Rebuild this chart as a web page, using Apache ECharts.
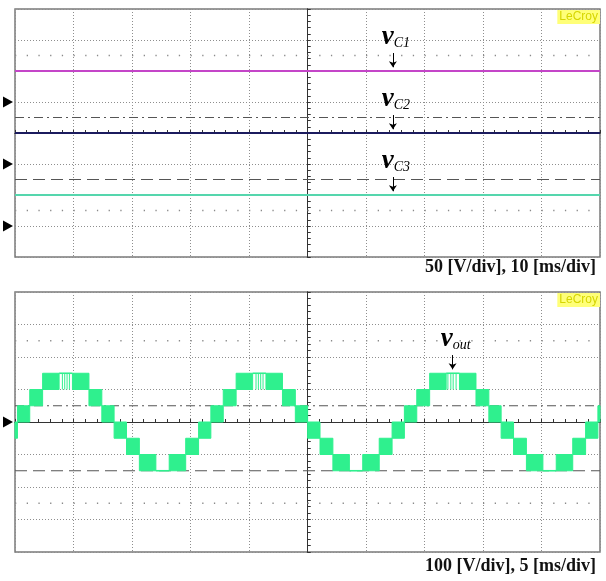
<!DOCTYPE html>
<html><head><meta charset="utf-8">
<script src="https://cdn.jsdelivr.net/npm/echarts@6/dist/echarts.min.js"></script>
<style>html,body{margin:0;padding:0;background:#fff}#c{width:606px;height:581px}</style>
</head><body><div id="c"></div>
<script>
// ---------- Top panel: capacitor voltages (50 V/div, 10 ms/div), time relative to trigger ----------
const capTimeMs = [-50, -25, 0, 25, 50];
const vC1 = [50, 50, 50, 50, 50];
const vC2 = [50, 50, 50, 50, 50];
const vC3 = [50, 50, 50, 50, 50];
// ---------- Bottom panel: output voltage (100 V/div, 5 ms/div) ----------
// band edges (ms) and the voltage band the switched output occupies between two edges
const voutEdgesMs = [-25, -24.79, -23.74, -22.64, -21.23, -20.09, -18.68, -17.58, -16.53,
  -15.47, -14.37, -12.96, -11.82, -10.41, -9.31, -8.26,
  -7.20, -6.10, -4.69, -3.55, -2.14, -1.04, 0.01,
  1.07, 2.17, 3.58, 4.72, 6.13, 7.23, 8.28,
  9.34, 10.44, 11.85, 12.99, 14.40, 15.50, 16.55,
  17.61, 18.71, 20.12, 21.26, 22.67, 23.77, 24.82, 25];
const voutBandLow = [-50, 0, 50, 100, 150, 100, 50, 0,
  -50, -100, -150, -150, -150, -100, -50,
  0, 50, 100, 150, 100, 50, 0,
  -50, -100, -150, -150, -150, -100, -50,
  0, 50, 100, 150, 100, 50, 0,
  -50, -100, -150, -150, -150, -100, -50, 0];
const voutBandHigh = [0, 50, 100, 150, 150, 150, 100, 50,
  0, -50, -100, -150, -100, -50, 0,
  50, 100, 150, 150, 150, 100, 50,
  0, -50, -100, -150, -100, -50, 0,
  50, 100, 150, 150, 150, 100, 50,
  0, -50, -100, -150, -100, -50, 0, 50];
// short dips near the positive peaks (ms), from 150 V down to 100 V
const voutSpikeMs = [-20.95, -20.75, -20.55, -20.35, -4.4, -4.2, -4.0, -3.8, 12.0, 12.25, 12.45, 12.7];
const voutSpikeHigh = 150, voutSpikeLow = 100;
// cursor levels
const topDashDotDiv = 0.5, topDashDiv = -1.5, topDotRowsDiv = [2.5, -2.5];
const botDashDotV = 50, botDashV = -150, botDotRowsV = [250, -250];

const GRID = '#8e8e8e', AX = '#333';
function mainAxis(extra) {
  return Object.assign({
    type: 'value', axisLabel: {show: false},
    axisLine: {show: true, onZero: true, lineStyle: {color: AX, width: 1}},
    axisTick: {show: true, inside: true, length: 3, lineStyle: {color: AX, width: 1}},
    minorTick: {show: true, splitNumber: 5, length: 3, lineStyle: {color: AX, width: 1}},
    splitLine: {show: true, lineStyle: {color: GRID, type: [1, 2], width: 1}},
    minorSplitLine: {show: false}
  }, extra);
}
function dupAxis(extra) {
  return Object.assign({
    type: 'value', axisLabel: {show: false},
    axisLine: {show: true, onZero: true, lineStyle: {color: AX, width: 1}},
    axisTick: {show: true, inside: false, length: 3, lineStyle: {color: AX, width: 1}},
    minorTick: {show: true, splitNumber: 5, length: 3, lineStyle: {color: AX, width: 1}},
    splitLine: {show: false}
  }, extra);
}
function hline(xi, yi, xmin, xmax, y, style) {
  return {type: 'line', xAxisIndex: xi, yAxisIndex: yi, silent: true, symbol: 'none', z: 1,
    data: [[xmin, y], [xmax, y]], lineStyle: style, animation: false};
}
const serif = 'Liberation Serif, Times New Roman, serif';
const richLab = {
  v: {fontFamily: serif, fontSize: 27, fontWeight: 'bold', fontStyle: 'italic', color: '#000', verticalAlign: 'bottom', lineHeight: 24},
  s: {fontFamily: serif, fontSize: 14, fontStyle: 'italic', color: '#000', verticalAlign: 'bottom', lineHeight: 16}
};
function annot(t, top, tip, sub, ground) {
  const mp = [{coord: [t, top], symbol: 'rect', symbolSize: 1, itemStyle: {color: 'rgba(0,0,0,0)'},
    label: {show: true, position: 'top', distance: 2, offset: [3, 0], formatter: '{v|v}{s|' + sub + '}', rich: richLab}}];
  if (ground) mp.push(ground);
  return {
    markLine: {silent: true, symbol: ['none', 'arrow'], symbolSize: 6, animation: false,
      lineStyle: {color: '#000', width: 1, type: 'solid'}, label: {show: false},
      data: [[{coord: [t, top]}, {coord: [t, tip]}]]},
    markPoint: {silent: true, animation: false, data: mp}
  };
}
function groundMark(xmin) {
  return {coord: [xmin, 0], symbol: 'triangle', symbolSize: [11, 10], symbolRotate: -90, symbolOffset: [-7, 0],
    itemStyle: {color: '#000'}, label: {show: false}};
}
function capSeries(name, vals, yi, color, sub) {
  const a = annot(14.6, 79, 56, sub, groundMark(-50));
  return {name, type: 'line', xAxisIndex: 0, yAxisIndex: yi, symbol: 'none', clip: false, z: 3,
    data: capTimeMs.map((t, i) => [t, vals[i]]), lineStyle: {color, width: 2}, itemStyle: {color},
    markLine: a.markLine, markPoint: a.markPoint, animation: false};
}
const green = '#2ff08e';
const bands = voutBandLow.map((lo, i) => [voutEdgesMs[i], voutEdgesMs[i + 1], lo, voutBandHigh[i]]);
const voutAnn = annot(12.4, 206, 162, 'out', groundMark(-25));

const option = {
  animation: false,
  backgroundColor: '#fff',
  title: [
    {text: '50 [V/div], 10 [ms/div]', right: 10, top: 258, padding: 0,
      textStyle: {fontFamily: serif, fontWeight: 'bold', fontSize: 18, color: '#111'}},
    {text: '100 [V/div], 5 [ms/div]', right: 10, top: 557, padding: 0,
      textStyle: {fontFamily: serif, fontWeight: 'bold', fontSize: 18, color: '#111'}},
    {text: 'LeCroy', right: 6, top: 10, padding: [1, 2], backgroundColor: '#ffff78',
      textStyle: {fontFamily: 'Liberation Sans, Arial', fontWeight: 'normal', fontSize: 12, color: '#d6d600'}},
    {text: 'LeCroy', right: 6, top: 293, padding: [1, 2], backgroundColor: '#ffff78',
      textStyle: {fontFamily: 'Liberation Sans, Arial', fontWeight: 'normal', fontSize: 12, color: '#d6d600'}}
  ],
  grid: [
    {left: 15, top: 9, width: 585, height: 248, show: true, borderColor: '#7a7a7a', borderWidth: 1.5, containLabel: false},
    {left: 15, top: 292, width: 585, height: 260, show: true, borderColor: '#7a7a7a', borderWidth: 1.5, containLabel: false}
  ],
  xAxis: [
    mainAxis({gridIndex: 0, min: -50, max: 50, interval: 10, axisLine: {show: true, onZero: true, onZeroAxisIndex: 0, lineStyle: {color: AX, width: 1}}}),
    dupAxis({gridIndex: 0, min: -50, max: 50, interval: 10, axisLine: {show: true, onZero: true, onZeroAxisIndex: 0, lineStyle: {color: AX, width: 1}}}),
    mainAxis({gridIndex: 1, min: -25, max: 25, interval: 5, axisLine: {show: true, onZero: true, onZeroAxisIndex: 5, lineStyle: {color: AX, width: 1}}}),
    dupAxis({gridIndex: 1, min: -25, max: 25, interval: 5, axisLine: {show: true, onZero: true, onZeroAxisIndex: 5, lineStyle: {color: AX, width: 1}}})
  ],
  yAxis: [
    mainAxis({gridIndex: 0, min: -4, max: 4, interval: 1, axisLine: {show: true, onZero: true, onZeroAxisIndex: 0, lineStyle: {color: AX, width: 1}}}),
    dupAxis({gridIndex: 0, min: -4, max: 4, interval: 1, axisLine: {show: true, onZero: true, onZeroAxisIndex: 0, lineStyle: {color: AX, width: 1}}}),
    {type: 'value', gridIndex: 0, show: false, min: -250, max: 150},
    {type: 'value', gridIndex: 0, show: false, min: -150, max: 250},
    {type: 'value', gridIndex: 0, show: false, min: -50, max: 350},
    mainAxis({gridIndex: 1, min: -400, max: 400, interval: 100, axisLine: {show: true, onZero: true, onZeroAxisIndex: 2, lineStyle: {color: AX, width: 1}}}),
    dupAxis({gridIndex: 1, min: -400, max: 400, interval: 100, axisLine: {show: true, onZero: true, onZeroAxisIndex: 2, lineStyle: {color: AX, width: 1}}})
  ],
  series: [
    hline(0, 0, -50, 50, topDashDotDiv, {color: '#555', width: 1.2, type: [9, 4, 2, 4]}),
    hline(0, 0, -50, 50, topDashDiv, {color: '#555', width: 1.2, type: [12, 6]}),
    hline(0, 0, -50, 50, topDotRowsDiv[0], {color: '#8a8a8a', width: 1.3, type: [1.3, 10.4]}),
    hline(0, 0, -50, 50, topDotRowsDiv[1], {color: '#8a8a8a', width: 1.3, type: [1.3, 10.4]}),
    hline(2, 5, -25, 25, botDashDotV, {color: '#555', width: 1.2, type: [9, 4, 2, 4]}),
    hline(2, 5, -25, 25, botDashV, {color: '#555', width: 1.2, type: [12, 6]}),
    hline(2, 5, -25, 25, botDotRowsV[0], {color: '#8a8a8a', width: 1.3, type: [1.3, 10.4]}),
    hline(2, 5, -25, 25, botDotRowsV[1], {color: '#8a8a8a', width: 1.3, type: [1.3, 10.4]}),
    capSeries('vC1', vC1, 2, '#c445c8', 'C1'),
    capSeries('vC2', vC2, 3, '#1b1b5e', 'C2'),
    capSeries('vC3', vC3, 4, '#55d6ad', 'C3'),
    {name: 'vout', type: 'custom', xAxisIndex: 2, yAxisIndex: 5, z: 3, clip: false,
      data: bands, encode: {x: [0, 1], y: [2, 3]},
      renderItem: function (params, api) {
        const t0 = api.value(0), t1 = api.value(1), lo = api.value(2), hi = api.value(3);
        const p0 = api.coord([t0, hi]), p1 = api.coord([t1, lo]);
        if (lo === hi) {
          return {type: 'line', shape: {x1: p0[0], y1: p0[1], x2: p1[0], y2: p1[1]},
            style: {stroke: green, lineWidth: 1.6}};
        }
        return {type: 'rect', shape: {x: p0[0], y: p0[1], width: p1[0] - p0[0], height: p1[1] - p0[1]},
          style: {fill: green, stroke: green, lineWidth: 1}};
      },
      markLine: voutAnn.markLine, markPoint: voutAnn.markPoint},
    {name: 'voutDips', type: 'custom', xAxisIndex: 2, yAxisIndex: 5, z: 3,
      data: voutSpikeMs.map(t => [t, voutSpikeLow, voutSpikeHigh]), encode: {x: 0, y: [1, 2]},
      renderItem: function (params, api) {
        const a = api.coord([api.value(0), api.value(2)]), b = api.coord([api.value(0), api.value(1)]);
        return {type: 'line', shape: {x1: a[0], y1: a[1], x2: b[0], y2: b[1]}, style: {stroke: green, lineWidth: 1}};
      }}
  ]
};
const chart = echarts.init(document.getElementById('c'), null, {renderer: 'canvas'});
chart.setOption(option);
</script></body></html>
